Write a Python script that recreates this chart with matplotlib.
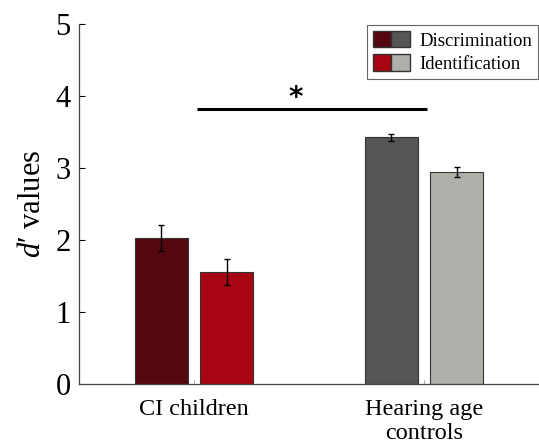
import numpy as np
import matplotlib
matplotlib.use("Agg")
import matplotlib.pyplot as plt
from matplotlib.patches import Patch
from matplotlib.legend_handler import HandlerTuple

plt.rcParams['font.family'] = ['Liberation Serif', 'DejaVu Serif']
plt.rcParams['mathtext.fontset'] = 'custom'
plt.rcParams['mathtext.it'] = 'Liberation Serif:italic'
plt.rcParams['mathtext.rm'] = 'Liberation Serif'

# data
groups = ['CI children', 'Hearing age\ncontrols']
conditions = ['Discrimination', 'Identification']
disc_vals = [2.03, 3.43]
disc_err = [0.18, 0.05]
ident_vals = [1.56, 2.94]
ident_err = [0.18, 0.07]
sig_level = 3.82

disc_colors = ['#560810', '#545756']
ident_colors = ['#a80512', '#b0b0aa']

fig = plt.figure(figsize=(5.39, 4.47), dpi=100)
ax = fig.add_axes([0.1466, 0.141, 0.8534, 0.805])

x = np.arange(1, len(groups) + 1)
off = 0.143
w = 0.23
ax.bar(x - off, disc_vals, w, yerr=disc_err, color=disc_colors,
       edgecolor='#333333', linewidth=0.8,
       error_kw=dict(ecolor='black', elinewidth=1, capsize=2.5, capthick=1))
ax.bar(x + off, ident_vals, w, yerr=ident_err, color=ident_colors,
       edgecolor='#333333', linewidth=0.8,
       error_kw=dict(ecolor='black', elinewidth=1, capsize=2.5, capthick=1))

# significance bar
ax.plot([x[0] + 0.015, x[1] + 0.015], [sig_level, sig_level], color='black', lw=2.2,
        solid_capstyle='butt')
ax.text(1.44, sig_level + 0.15, '*', ha='center', va='center', fontsize=20,
        fontweight='bold', family='DejaVu Sans')

ax.set_xlim(0.5, 2.5)
ax.set_ylim(0, 5)
ax.set_yticks(range(6))
ax.set_xticks(x)
ax.set_xticklabels(groups, fontsize=17.5, linespacing=1.2)
ax.tick_params(axis='y', direction='in', labelsize=22, length=4, width=0.8, pad=6)
ax.tick_params(axis='x', direction='in', length=3, width=0.6, pad=11, color='#999999')
ax.set_ylabel("$d$\u2032 values", fontsize=22, labelpad=6)

for s in ['top', 'right']:
    ax.spines[s].set_visible(False)
for s in ['left', 'bottom']:
    ax.spines[s].set_linewidth(0.9)
    ax.spines[s].set_color('#444444')

handles = [(Patch(facecolor=disc_colors[0], edgecolor='#333333'),
            Patch(facecolor=disc_colors[1], edgecolor='#333333')),
           (Patch(facecolor=ident_colors[0], edgecolor='#333333'),
            Patch(facecolor=ident_colors[1], edgecolor='#333333'))]
leg = ax.legend(handles, conditions, handler_map={tuple: HandlerTuple(ndivide=None, pad=0)},
                loc='upper right', bbox_to_anchor=(1.0, 1.0), fontsize=13.5,
                fancybox=False, edgecolor='#666666', framealpha=1,
                handlelength=2.0, handleheight=1.0, handletextpad=0.5,
                borderpad=0.3, labelspacing=0.25, borderaxespad=0.05)
leg.get_frame().set_linewidth(0.8)

fig.savefig('out.png', dpi=100)
